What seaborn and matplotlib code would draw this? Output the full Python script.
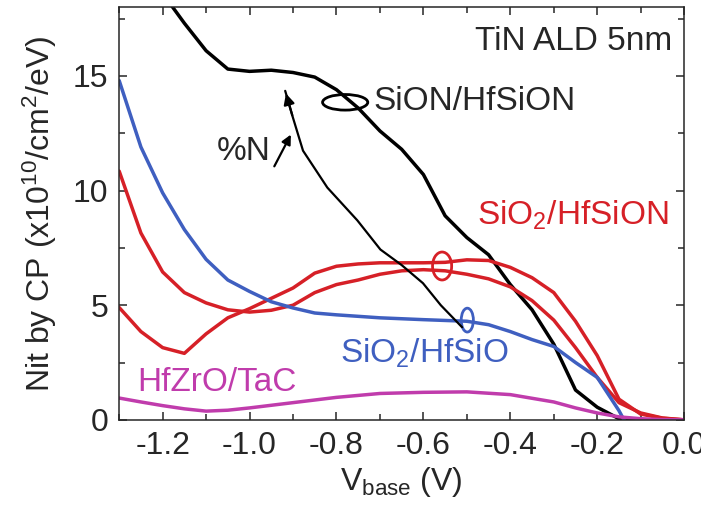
import numpy as np
import pandas as pd
import seaborn as sns
import matplotlib.pyplot as plt
from matplotlib.patches import Ellipse
from matplotlib.ticker import MultipleLocator, FormatStrFormatter

# Dane (V_base w V, Nit w 1e10/cm2/eV)
x_sion = [-1.20, -1.15, -1.10, -1.05, -1.00, -0.95, -0.90, -0.85, -0.80, -0.75, -0.70,
          -0.65, -0.60, -0.55, -0.50, -0.45, -0.40, -0.35, -0.30, -0.25, -0.20, -0.15,
          -0.10, 0.00]
y_sion = [18.6, 17.3, 16.1, 15.3, 15.2, 15.25, 15.15, 14.95, 14.4, 13.6, 12.6,
          11.8, 10.7, 8.9, 7.95, 7.2, 5.9, 4.8, 3.3, 1.3, 0.55, 0.05,
          0.0, 0.0]

x_red_a = [-1.30, -1.25, -1.20, -1.15, -1.10, -1.05, -1.00, -0.95, -0.90, -0.85, -0.80,
           -0.75, -0.70, -0.65, -0.60, -0.55, -0.50, -0.45, -0.40, -0.35, -0.30, -0.25,
           -0.20, -0.15, -0.10, -0.05, 0.00]
y_red_a = [10.85, 8.15, 6.45, 5.55, 5.1, 4.8, 4.7, 4.78, 5.0, 5.55, 5.9,
           6.1, 6.35, 6.5, 6.55, 6.5, 6.35, 6.15, 5.8, 5.2, 4.35, 3.15,
           1.85, 0.75, 0.3, 0.08, 0.0]

x_red_b = [-1.30, -1.25, -1.20, -1.15, -1.10, -1.05, -1.00, -0.95, -0.90, -0.85, -0.80,
           -0.75, -0.70, -0.65, -0.60, -0.55, -0.50, -0.45, -0.40, -0.35, -0.30, -0.25,
           -0.20, -0.15, -0.10, -0.05, 0.00]
y_red_b = [4.9, 3.85, 3.15, 2.9, 3.75, 4.45, 4.85, 5.3, 5.75, 6.4, 6.7,
           6.8, 6.85, 6.85, 6.85, 6.87, 6.98, 6.95, 6.65, 6.2, 5.55, 4.3,
           2.8, 0.9, 0.25, 0.07, 0.0]

x_blue = [-1.30, -1.25, -1.20, -1.15, -1.10, -1.05, -1.00, -0.95, -0.90, -0.85, -0.80,
          -0.70, -0.60, -0.50, -0.45, -0.40, -0.35, -0.30, -0.25, -0.20, -0.15, -0.13]
y_blue = [14.8, 11.9, 9.9, 8.3, 7.0, 6.1, 5.6, 5.15, 4.88, 4.66, 4.58,
          4.45, 4.37, 4.3, 4.15, 3.85, 3.5, 3.2, 2.5, 1.85, 0.4, -0.3]

x_mag = [-1.30, -1.25, -1.20, -1.15, -1.10, -1.05, -1.00, -0.90, -0.80, -0.70, -0.60,
         -0.50, -0.40, -0.30, -0.25, -0.20, -0.15, -0.10, -0.05, 0.00]
y_mag = [0.95, 0.78, 0.62, 0.48, 0.38, 0.42, 0.52, 0.75, 0.98, 1.15, 1.2,
         1.22, 1.1, 0.78, 0.52, 0.3, 0.13, 0.05, 0.01, 0.0]

# Strzałka %N (krzywa od elipsy niebieskiej w górę)
x_arrow = [-0.511, -0.56, -0.601, -0.65, -0.699, -0.752, -0.821, -0.877, -0.900, -0.918]
y_arrow = [4.04, 5.0, 5.96, 6.75, 7.43, 8.70, 10.13, 11.74, 13.17, 14.35]

red = "#d62027"
blue = "#3f5fc0"
mag = "#c03cac"

sns.set_style("ticks")
plt.rcParams['font.family'] = ['Liberation Sans', 'DejaVu Sans']
plt.rcParams['mathtext.default'] = 'regular'
plt.rcParams['axes.unicode_minus'] = False

fig = plt.figure(figsize=(7.01, 5.12), dpi=100)
ax = fig.add_axes([0.170, 0.180, 0.806, 0.806])

lw = 2.5
sns.lineplot(x=x_sion, y=y_sion, color="black", linewidth=lw, ax=ax, sort=False)
sns.lineplot(x=x_red_a, y=y_red_a, color=red, linewidth=lw, ax=ax, sort=False)
sns.lineplot(x=x_red_b, y=y_red_b, color=red, linewidth=lw, ax=ax, sort=False)
sns.lineplot(x=x_blue, y=y_blue, color=blue, linewidth=lw, ax=ax, sort=False)
sns.lineplot(x=x_mag, y=y_mag, color=mag, linewidth=lw, ax=ax, sort=False)
sns.lineplot(x=x_arrow, y=y_arrow, color="black", linewidth=1.6, ax=ax, sort=False)

# Grot strzałki na końcu krzywej %N
ax.annotate("", xy=(x_arrow[-1], y_arrow[-1]), xytext=(x_arrow[-2], y_arrow[-2]),
            arrowprops=dict(arrowstyle='-|>', color='black', lw=1.6, mutation_scale=16))
# Mała strzałka przy napisie %N
ax.annotate("", xy=(-0.902, 12.55), xytext=(-0.946, 10.95),
            arrowprops=dict(arrowstyle='-|>', color='black', lw=1.6, mutation_scale=14))

# Elipsy zaznaczające grupy krzywych
ax.add_patch(Ellipse((-0.780, 13.85), 0.104, 0.68, fill=False, ec='black', lw=2.0))
ax.add_patch(Ellipse((-0.557, 6.71), 0.044, 1.22, fill=False, ec=red, lw=2.0))
ax.add_patch(Ellipse((-0.499, 4.35), 0.028, 1.04, fill=False, ec=blue, lw=2.0))

fs = 24
ax.text(-0.028, 16.5, "TiN ALD 5nm", fontsize=fs, ha='right', va='center')
ax.text(-0.716, 13.9, "SiON/HfSiON", fontsize=fs, ha='left', va='center')
ax.text(-1.075, 11.7, "%N", fontsize=fs, ha='left', va='center')
ax.text(-0.476, 8.9, "SiO$_2$/HfSiON", fontsize=fs, ha='left', va='center', color=red)
ax.text(-0.791, 2.9, "SiO$_2$/HfSiO", fontsize=fs, ha='left', va='center', color=blue)
ax.text(-1.259, 1.65, "HfZrO/TaC", fontsize=fs, ha='left', va='center', color=mag)

ax.set_xlim(-1.3, 0.0)
ax.set_ylim(0, 18)
ax.xaxis.set_major_locator(MultipleLocator(0.2))
ax.xaxis.set_minor_locator(MultipleLocator(0.1))
ax.xaxis.set_major_formatter(FormatStrFormatter('%.1f'))
ax.yaxis.set_major_locator(MultipleLocator(5))
ax.yaxis.set_minor_locator(MultipleLocator(2.5))
ax.tick_params(which='both', direction='in', top=True, right=True, width=1.1, labelsize=23)
ax.tick_params(which='major', length=6, pad=8)
ax.tick_params(which='minor', length=4)
for s in ax.spines.values():
    s.set_linewidth(1.1)

ax.set_xlabel("V$_{base}$ (V)", fontsize=23, labelpad=3)
ax.set_ylabel("Nit by CP (x10$^{10}$/cm$^2$/eV)", fontsize=23, labelpad=10)

fig.savefig("out.png", dpi=100)
